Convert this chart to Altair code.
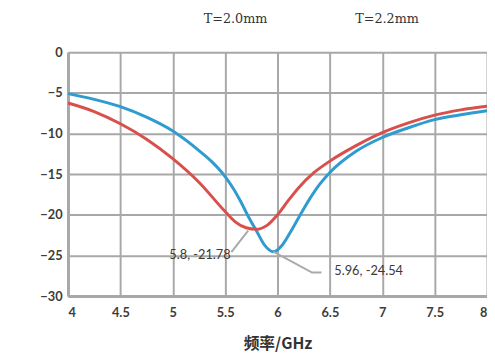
import altair as alt
import pandas as pd

# ---- data ----
series_names = ["T=2.0mm", "T=2.2mm"]
series_colors = ["#2f9bd1", "#d8504c"]

blue_freq = [4.0, 4.25, 4.5, 4.75, 5.0, 5.25, 5.375, 5.5, 5.575, 5.65, 5.725, 5.8, 5.88, 5.96,
             6.04, 6.12, 6.2, 6.3, 6.4, 6.5, 6.75, 7.0, 7.25, 7.5, 7.75, 8.0]
blue_s11 = [-5.1, -5.8, -6.7, -8.0, -9.7, -12.1, -13.5, -15.3, -16.7, -18.4, -20.3, -22.0, -23.8, -24.54,
            -23.8, -22.2, -20.4, -18.2, -16.3, -14.8, -12.2, -10.5, -9.3, -8.3, -7.7, -7.2]

red_freq = [4.0, 4.25, 4.5, 4.75, 5.0, 5.25, 5.5, 5.6, 5.7, 5.8, 5.9,
            6.0, 6.1, 6.2, 6.35, 6.5, 6.75, 7.0, 7.25, 7.5, 7.75, 8.0]
red_s11 = [-6.25, -7.3, -8.8, -10.7, -13.1, -16.0, -19.6, -20.9, -21.6, -21.78, -21.3,
           -20.0, -18.3, -16.7, -14.8, -13.4, -11.5, -9.9, -8.7, -7.75, -7.1, -6.65]

x_ticks = [4, 4.5, 5, 5.5, 6, 6.5, 7, 7.5, 8]
y_ticks = [-30, -25, -20, -15, -10, -5, 0]

# annotations (data units)
ann_text = ["5.8, -21.78", "5.96, -24.54"]
ann_text_x = [5.26, 6.87]
ann_text_y = [-25.0, -26.9]
# leader lines: id, x, y
lead_id = ["a", "a", "b", "b", "b"]
lead_x = [5.72, 5.56, 5.96, 6.33, 6.42]
lead_y = [-21.95, -24.6, -24.54, -27.1, -27.1]

rows = []
for f, v in zip(blue_freq, blue_s11):
    rows.append({"series": series_names[0], "freq": f, "s11": v})
for f, v in zip(red_freq, red_s11):
    rows.append({"series": series_names[1], "freq": f, "s11": v})
df = pd.DataFrame(rows)

ann_df = pd.DataFrame({"label": ann_text, "x": ann_text_x, "y": ann_text_y})
lead_df = pd.DataFrame({"id": lead_id, "x": lead_x, "y": lead_y, "order": list(range(len(lead_x)))})

xscale = alt.Scale(domain=[4, 8], nice=False, zero=False)
yscale = alt.Scale(domain=[-30, 0], nice=False, zero=False)

lines = alt.Chart(df).mark_line(strokeWidth=3, interpolate="monotone").encode(
    x=alt.X("freq:Q", scale=xscale, title="频率/GHz",
            axis=alt.Axis(values=x_ticks, format="~g")),
    y=alt.Y("s11:Q", scale=yscale, title=None,
            axis=alt.Axis(values=y_ticks)),
    color=alt.Color("series:N",
                    scale=alt.Scale(domain=series_names, range=series_colors),
                    legend=alt.Legend(orient="none", legendX=125, legendY=-40,
                                      direction="horizontal", title=None,
                                      symbolOpacity=0, symbolSize=1,
                                      labelOffset=0, columnPadding=76,
                                      labelFont="DejaVu Serif", labelFontSize=13,
                                      labelColor="#333333")),
)

leaders = alt.Chart(lead_df).mark_line(color="#a9a9a9", strokeWidth=2).encode(
    x=alt.X("x:Q", scale=xscale),
    y=alt.Y("y:Q", scale=yscale),
    detail="id:N",
    order="order:Q",
)

labels = alt.Chart(ann_df).mark_text(font="Lato", fontSize=13, color="#3a3a3a",
                                     align="center", baseline="middle").encode(
    x=alt.X("x:Q", scale=xscale),
    y=alt.Y("y:Q", scale=yscale),
    text="label:N",
)

chart = alt.layer(lines, leaders, labels).properties(
    width=426, height=248,
    autosize=alt.AutoSizeParams(type="none"),
    padding={"left": 61, "top": 42, "right": 0, "bottom": 56},
).configure_view(strokeWidth=0).configure_axis(
    grid=True, gridColor="#a8a8a8", gridWidth=2, gridOpacity=1,
    domainColor="#a8a8a8", domainWidth=3, ticks=False,
    labelFont="Lato", labelFontSize=13, labelFontWeight="bold", labelColor="#3c3c3c",
    titleFont="Noto Sans CJK SC", titleFontSize=16, titleFontWeight="bold", titleColor="#333333",
).configure_axisX(labelPadding=11, titlePadding=16).configure_axisY(labelPadding=6)

chart.save("out.html", embed_options={"renderer": "svg", "actions": False})
